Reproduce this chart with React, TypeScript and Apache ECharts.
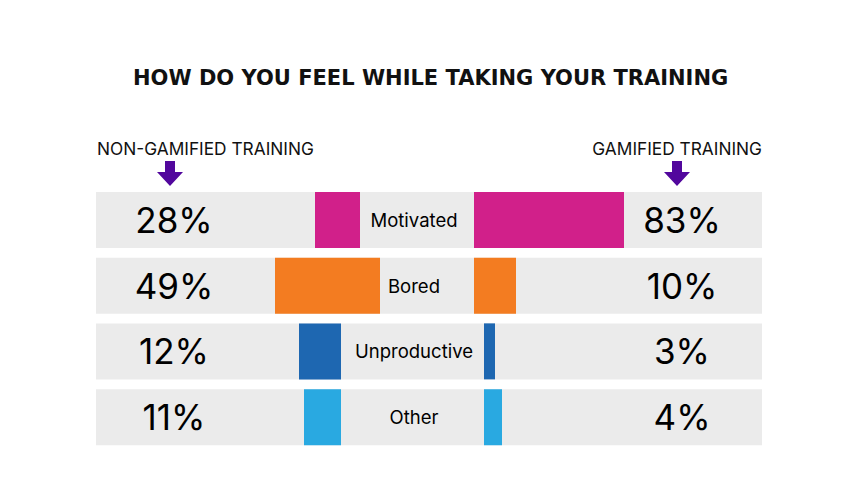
import React, { useEffect, useRef } from "react";
import * as echarts from "echarts";

// ---- data ----
const categories = ["Motivated", "Bored", "Unproductive", "Other"];
const nonGamifiedPct = [28, 49, 12, 11];
const gamifiedPct = [83, 10, 3, 4];
// bar lengths as drawn in the infographic (display units, not proportional to %)
const nonGamifiedBar = [45, 105, 42, 37];
const gamifiedBar = [150, 42, 11, 18];
const titleText = "HOW DO YOU FEEL WHILE TAKING YOUR TRAINING";
const leftHeader = "NON-GAMIFIED TRAINING";
const rightHeader = "GAMIFIED TRAINING";

// ---- layout (axis units = px along the rows) ----
const AXIS_MAX = 666;
const LABEL_CENTER = 318;
const LEFT_PCT_X = 78;
const RIGHT_PCT_X = 586;
const leftGap = [54, 34, 73, 73];
const rightGap = [60, 60, 70, 70];
const colors = ["#D1208A", "#F37C21", "#1E67B1", "#29A9E1"];
const FONT = "Inter, 'Noto Sans', sans-serif";

export default function App() {
  const ref = useRef<HTMLDivElement>(null);
  useEffect(() => {
    if (!ref.current) return;
    const chart = echarts.init(ref.current, undefined, { renderer: "svg" });

    const leftOffset = categories.map((_, i) => LABEL_CENTER - leftGap[i] - nonGamifiedBar[i]);
    const midGap = categories.map((_, i) => leftGap[i] + rightGap[i]);

    const arrow = (cx: number) => ({
      type: "polygon",
      shape: {
        points: [
          [cx - 5, 161],
          [cx + 5, 161],
          [cx + 5, 172],
          [cx + 13, 172],
          [cx, 186],
          [cx - 13, 172],
          [cx - 5, 172],
        ],
      },
      style: { fill: "#52079D" },
    });

    const textScatter = (xs: number, fmt: (i: number) => string, size: number, weight: number) => ({
      type: "scatter",
      symbolSize: 1,
      itemStyle: { color: "transparent" },
      z: 5,
      silent: true,
      data: categories.map((c, i) => ({ value: [xs, c], name: fmt(i) })),
      label: {
        show: true,
        position: "inside",
        formatter: (p: any) => p.name,
        fontFamily: FONT,
        fontSize: size,
        fontWeight: weight,
        color: "#000",
        opacity: 1,
      },
    });

    chart.setOption({
      animation: false,
      backgroundColor: "#ffffff",
      title: {
        text: titleText,
        left: 128,
        top: 62,
        textStyle: { fontFamily: "'DejaVu Sans', sans-serif", fontSize: 21, fontWeight: "bold", color: "#111" },
      },
      grid: { left: 96, right: 89, top: 187, bottom: 54 },
      xAxis: { type: "value", min: 0, max: AXIS_MAX, show: false },
      yAxis: { type: "category", data: categories, inverse: true, show: false },
      graphic: [
        {
          type: "text",
          left: 97,
          top: 140,
          style: { text: leftHeader, fontFamily: FONT, fontSize: 17.3, fill: "#111" },
        },
        {
          type: "text",
          right: 89,
          top: 140,
          style: { text: rightHeader, fontFamily: FONT, fontSize: 17.3, fill: "#111" },
        },
        arrow(170),
        arrow(677),
      ],
      series: [
        {
          type: "bar",
          name: "bg",
          data: categories.map(() => AXIS_MAX),
          barWidth: 56,
          barGap: "-100%",
          itemStyle: { color: "#EBEBEB" },
          silent: true,
          z: 1,
        },
        {
          type: "bar",
          stack: "s",
          data: leftOffset,
          barWidth: 56,
          barGap: "-100%",
          itemStyle: { color: "transparent" },
          z: 2,
        },
        {
          type: "bar",
          stack: "s",
          data: nonGamifiedBar.map((v, i) => ({ value: v, itemStyle: { color: colors[i] } })),
          barWidth: 56,
          barGap: "-100%",
          z: 2,
        },
        {
          type: "bar",
          stack: "s",
          data: midGap,
          barWidth: 56,
          barGap: "-100%",
          itemStyle: { color: "transparent" },
          z: 2,
        },
        {
          type: "bar",
          stack: "s",
          data: gamifiedBar.map((v, i) => ({ value: v, itemStyle: { color: colors[i] } })),
          barWidth: 56,
          barGap: "-100%",
          z: 2,
        },
        textScatter(LEFT_PCT_X, (i) => nonGamifiedPct[i] + "%", 35, 400),
        textScatter(RIGHT_PCT_X, (i) => gamifiedPct[i] + "%", 35, 400),
        textScatter(LABEL_CENTER, (i) => categories[i], 18.5, 400),
      ],
    });
    return () => chart.dispose();
  }, []);
  return <div ref={ref} style={{ position: "absolute", left: 0, top: 0, width: 851, height: 504 }} />;
}
